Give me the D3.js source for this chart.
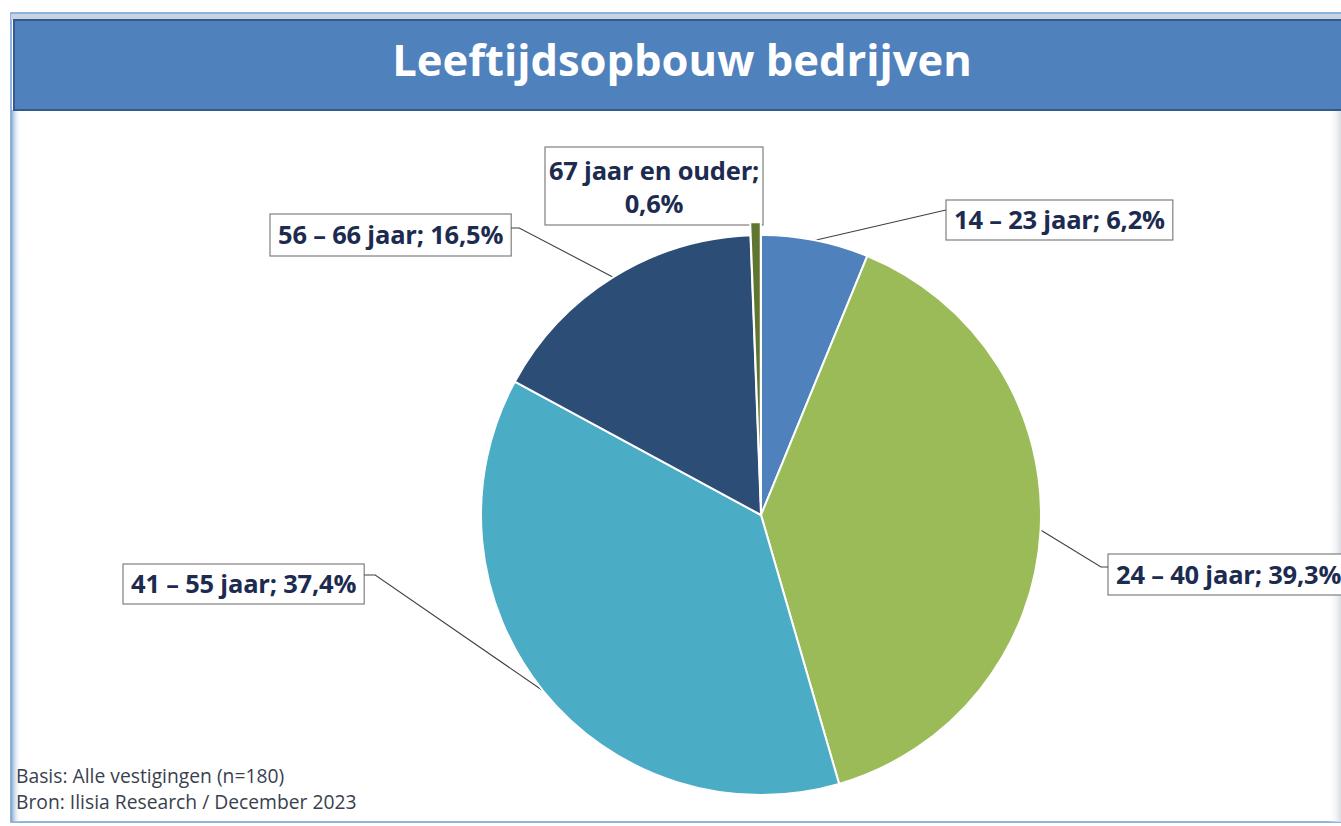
<!DOCTYPE html>
<html><head><meta charset="utf-8">
<script src="https://cdn.jsdelivr.net/npm/d3@7"></script>
<style>body{margin:0;background:#fff;}svg{display:block;}</style>
</head><body>
<svg id="chart" width="1341" height="826"></svg>
<script>
const title = "Leeftijdsopbouw bedrijven";
const categories = ["14 – 23 jaar", "24 – 40 jaar", "41 – 55 jaar", "56 – 66 jaar", "67 jaar en ouder"];
const values = [6.2, 39.3, 37.4, 16.5, 0.6];
const colors = ["#4F81BD", "#9BBB59", "#4BACC6", "#2C4D75", "#5F7530"];
const footnotes = ["Basis: Alle vestigingen (n=180)", "Bron: Ilisia Research / December 2023"];

const W = 1341, H = 826;
const svg = d3.select("#chart");
const defs = svg.append("defs");
const g1 = defs.append("linearGradient").attr("id","leftShade").attr("x1","0").attr("x2","1");
g1.append("stop").attr("offset","0").attr("stop-color","#7fa3cf");
g1.append("stop").attr("offset","1").attr("stop-color","#ffffff").attr("stop-opacity",0);
const g2 = defs.append("linearGradient").attr("id","rightShade").attr("x1","0").attr("x2","1");
g2.append("stop").attr("offset","0").attr("stop-color","#ffffff").attr("stop-opacity",0);
g2.append("stop").attr("offset","1").attr("stop-color","#d9dde3");

// frame
svg.append("rect").attr("x",11).attr("y",13).attr("width",W).attr("height",809)
  .attr("fill","#fff").attr("stroke","#6a9bd8").attr("stroke-width",1.5);
svg.append("rect").attr("x",11).attr("y",110).attr("width",10).attr("height",712).attr("fill","url(#leftShade)");
svg.append("rect").attr("x",1328).attr("y",110).attr("width",13).attr("height",712).attr("fill","url(#rightShade)");
svg.append("rect").attr("x",11).attr("y",14).attr("width",W).attr("height",6).attr("fill","#c9d3df");
// title bar
svg.append("rect").attr("x",14).attr("y",20).attr("width",W).attr("height",90)
  .attr("fill","#4F81BD").attr("stroke","#35598a").attr("stroke-width",2);
svg.append("text").attr("x",682).attr("y",76).attr("text-anchor","middle")
  .attr("font-family","'Open Sans', Lato, sans-serif").attr("font-weight","bold")
  .attr("font-size",43.5).attr("fill","#fff").text(title);

// pie
const cx = 761, cy = 515, R = 280;
const pie = d3.pie().sort(null).value(d => d)(values);
const arc = d3.arc().innerRadius(0).outerRadius(R);
const explode = [0,0,0,0,13];

// label layout (box positions) and leader elbows
const boxes = [
  {x:946, y:200, h:40, attachY:10, side:"left", elbow:null},
  {x:1108, y:554, h:41, attachY:13, side:"left", elbow:7},
  {x:123, y:564, h:40, attachY:11, side:"right", elbow:11},
  {x:270, y:214, h:42, attachY:14, side:"right", elbow:8},
  {x:545, y:147, h:78, w:218, attachY:null, side:null, elbow:null}
];
const fmt = v => d3.format(".1f")(v).replace(".", ",") + "%";
boxes.forEach((b,i)=>{ if(i<4) b.lines=[categories[i]+"; "+fmt(values[i])]; else b.lines=[categories[i]+";", fmt(values[i])]; });

const labG = svg.append("g");
boxes.forEach((b,i)=>{
  const grp = labG.append("g");
  const rect = grp.append("rect").attr("fill","#fff").attr("stroke","#7f7f7f").attr("stroke-width",1.2);
  const texts = b.lines.map((t,k)=> grp.append("text")
      .attr("font-family","'Open Sans', Lato, sans-serif").attr("font-weight","bold")
      .attr("font-size",25.5).attr("letter-spacing",-0.2).attr("fill","#1c2b4f").text(t));
  let maxW = d3.max(texts, t => t.node().getComputedTextLength());
  const w = b.w || maxW + 16;
  b.w = w;
  rect.attr("x",b.x).attr("y",b.y).attr("width",w).attr("height",b.h);
  if(b.lines.length===1){
    texts[0].attr("x",b.x+w/2).attr("y",b.y+b.h/2+9).attr("text-anchor","middle");
  } else {
    texts.forEach((t,k)=> t.attr("x",b.x+w/2).attr("y",b.y+33+k*33).attr("text-anchor","middle"));
  }
  // leader
  if(b.side){
    const a = (pie[i].startAngle+pie[i].endAngle)/2;
    const px = cx + R*Math.sin(a), py = cy - R*Math.cos(a);
    const bx = b.side==="left" ? b.x : b.x + w;
    const by = b.y + b.attachY;
    const pts = [[px,py]];
    if(b.elbow) pts.push([b.side==="left"? bx-b.elbow : bx+b.elbow, by]);
    pts.push([bx,by]);
    svg.append("path").attr("d", d3.line()(pts)).attr("fill","none")
      .attr("stroke","#404040").attr("stroke-width",1.1);
  }
});

const pieG = svg.append("g").attr("transform",`translate(${cx},${cy})`);
pieG.selectAll("path").data(pie).join("path")
  .attr("transform",(d,i)=>{
    const a=(d.startAngle+d.endAngle)/2;
    return `translate(${explode[i]*Math.sin(a)},${-explode[i]*Math.cos(a)})`;
  })
  .attr("d",arc).attr("fill",(d,i)=>colors[i])
  .attr("stroke","#fff").attr("stroke-width",2).attr("stroke-linejoin","round");

// footnotes
footnotes.forEach((t,k)=> svg.append("text").attr("x",16).attr("y",783+k*26)
  .attr("font-family","'Open Sans', Lato, sans-serif").attr("font-size",19.3)
  .attr("fill","#3a3f4e").text(t));
</script>
</body></html>
